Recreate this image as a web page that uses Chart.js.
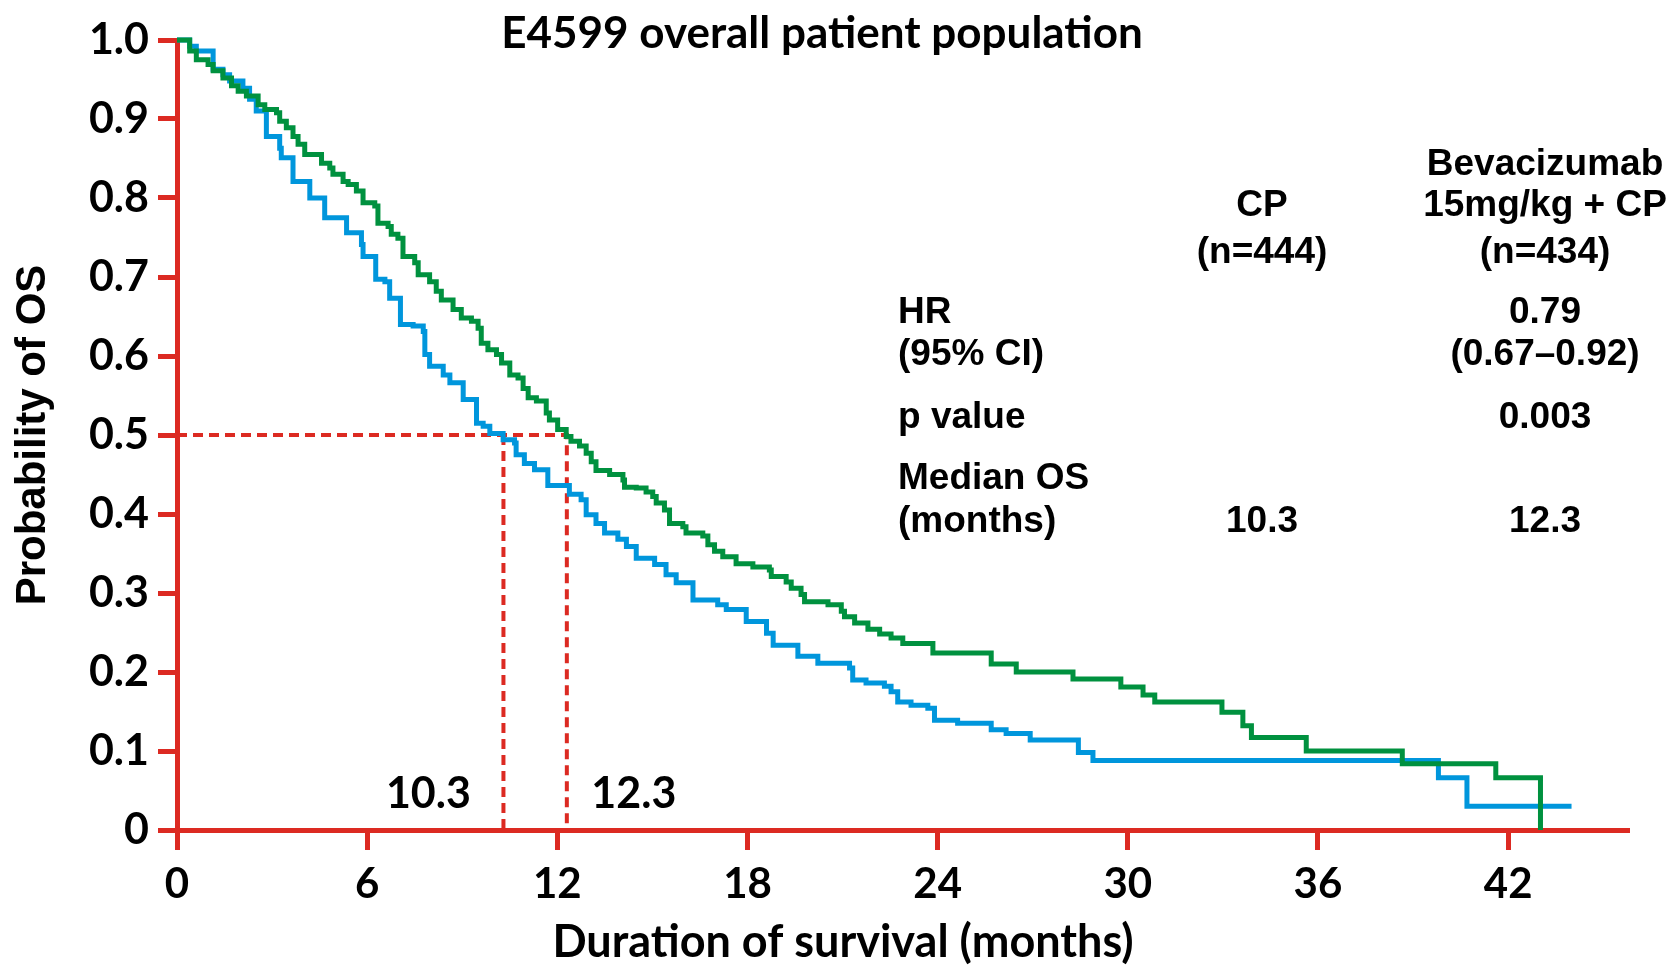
<!DOCTYPE html>
<html>
<head>
<meta charset="utf-8">
<title>E4599 overall patient population</title>
<script src="https://cdn.jsdelivr.net/npm/chart.js@4.4.1/dist/chart.umd.min.js"></script>
<style>
  html, body { margin: 0; padding: 0; background: #fff; }
  #wrap { width: 1673px; height: 965px; position: relative; }
</style>
</head>
<body>
<div id="wrap"><canvas id="kmChart"></canvas></div>
<script>
// CP arm (blue), Kaplan-Meier steps: month of drop, survival after drop
const cpMonths = [0, 0.40, 0.61, 1.14, 1.45, 1.66, 2.08, 2.29, 2.50, 2.82,
    3.24, 3.29, 3.66, 4.19, 4.66, 5.35, 5.82, 5.87, 6.27, 6.56,
    6.71, 7.05, 7.45, 7.77, 7.82, 7.97, 8.40, 8.61, 9.03, 9.45,
    9.66, 9.87, 10.29, 10.65, 10.70, 10.96, 11.28, 11.70, 12.38, 12.75,
    12.91, 13.22, 13.49, 13.91, 14.18, 14.49, 15.07, 15.43, 15.75, 16.28,
    17.06, 17.33, 17.96, 18.60, 18.81, 19.59, 20.22, 21.22, 21.32, 21.74,
    22.32, 22.53, 22.74, 23.16, 23.69, 23.90, 24.63, 25.69, 26.16, 26.92,
    28.44, 28.90, 39.80, 40.70, 44.0];
const cpSurvival = [1.0, 0.992, 0.986, 0.963, 0.956, 0.948, 0.939, 0.925, 0.910, 0.878,
    0.863, 0.851, 0.821, 0.800, 0.775, 0.756, 0.741, 0.726, 0.697, 0.694,
    0.673, 0.640, 0.638, 0.631, 0.602, 0.587, 0.576, 0.566, 0.545, 0.515,
    0.511, 0.502, 0.494, 0.490, 0.475, 0.464, 0.456, 0.436, 0.425, 0.418,
    0.399, 0.388, 0.376, 0.368, 0.359, 0.344, 0.336, 0.323, 0.313, 0.291,
    0.285, 0.279, 0.264, 0.249, 0.234, 0.220, 0.211, 0.205, 0.190, 0.186,
    0.182, 0.175, 0.162, 0.158, 0.154, 0.139, 0.135, 0.127, 0.122, 0.114,
    0.098, 0.088, 0.066, 0.030, 0.030];

// Bevacizumab 15mg/kg + CP arm (green)
const bevMonths = [0, 0.40, 0.61, 0.98, 1.14, 1.45, 1.72, 1.93, 2.19, 2.56,
    2.77, 3.14, 3.24, 3.45, 3.66, 3.82, 4.03, 4.56, 4.82, 4.92,
    5.24, 5.40, 5.66, 5.87, 6.24, 6.34, 6.66, 6.76, 6.97, 7.13,
    7.50, 7.61, 7.97, 8.18, 8.34, 8.71, 8.97, 9.29, 9.50, 9.60,
    9.81, 10.08, 10.24, 10.50, 10.76, 10.92, 11.08, 11.34, 11.65, 11.75,
    12.01, 12.28, 12.43, 12.70, 12.91, 13.07, 13.22, 13.65, 14.07, 14.12,
    14.49, 14.80, 15.01, 15.12, 15.38, 15.54, 15.96, 16.06, 16.59, 16.75,
    16.96, 17.22, 17.64, 18.17, 18.69, 18.75, 19.22, 19.38, 19.69, 19.80,
    20.54, 20.96, 21.06, 21.38, 21.80, 22.17, 22.53, 22.90, 23.85, 25.69,
    26.48, 28.27, 29.78, 30.48, 30.85, 32.97, 33.63, 33.90, 35.63, 38.66,
    41.61, 43.02];
const bevSurvival = [1.0, 0.986, 0.975, 0.969, 0.961, 0.952, 0.942, 0.935, 0.929, 0.918,
    0.912, 0.908, 0.897, 0.889, 0.878, 0.868, 0.855, 0.844, 0.838, 0.830,
    0.821, 0.817, 0.809, 0.794, 0.790, 0.768, 0.764, 0.754, 0.749, 0.726,
    0.718, 0.703, 0.694, 0.682, 0.671, 0.659, 0.648, 0.644, 0.635, 0.616,
    0.608, 0.602, 0.591, 0.576, 0.572, 0.559, 0.547, 0.543, 0.528, 0.519,
    0.507, 0.498, 0.492, 0.486, 0.477, 0.466, 0.455, 0.450, 0.443, 0.434,
    0.433, 0.428, 0.422, 0.414, 0.405, 0.388, 0.384, 0.376, 0.372, 0.361,
    0.353, 0.346, 0.337, 0.333, 0.329, 0.321, 0.314, 0.306, 0.298, 0.289,
    0.285, 0.277, 0.270, 0.262, 0.254, 0.248, 0.243, 0.236, 0.224, 0.210,
    0.200, 0.191, 0.181, 0.171, 0.162, 0.149, 0.132, 0.117, 0.100, 0.084,
    0.066, 0];

const medianMonths = [10.3, 12.3];
const medianLevel = 0.5;
const medianLabels = ['10.3', '12.3'];

const xTickValues = [0, 6, 12, 18, 24, 30, 36, 42];
const xMax = 45.75;
const yTickValues = [0, 0.1, 0.2, 0.3, 0.4, 0.5, 0.6, 0.7, 0.8, 0.9, 1.0];
const yTickLabels = ['0', '0.1', '0.2', '0.3', '0.4', '0.5', '0.6', '0.7', '0.8', '0.9', '1.0'];

const chartTitle = 'E4599 overall patient population';
const xTitle = 'Duration of survival (months)';
const yTitle = 'Probability of OS';

// summary table: [left label, CP column, Bevacizumab column]
const tableHead = [
    ['', '', 'Bevacizumab'],
    ['', 'CP', '15mg/kg + CP'],
    ['', '(n=444)', '(n=434)']
];
const tableRows = [
    ['HR', '', '0.79'],
    ['(95% CI)', '', '(0.67\u20130.92)'],
    ['p value', '', '0.003'],
    ['Median OS', '', ''],
    ['(months)', '10.3', '12.3']
];

const RED = '#dc2a22';
const BLUE = '#0096dc';
const GREEN = '#00913f';

function toPoints(xs, ys) {
    var pts = [];
    for (var i = 0; i < xs.length; i++) {
        pts.push({ x: xs[i], y: ys[i] });
    }
    return pts;
}

const textPlugin = {
    id: 'kmText',
    afterDraw(chart) {
        const ctx = chart.ctx;
        const xs = chart.scales.x;
        const ys = chart.scales.y;
        ctx.save();
        ctx.fillStyle = '#000';
        ctx.textBaseline = 'middle';
        ctx.textAlign = 'center';

        ctx.font = 'bold 44px Lato';
        ctx.fillText(chartTitle, 822, 34);

        ctx.font = 'bold 45px Lato';
        ctx.fillText(xTitle, 843, 942);

        // median labels next to the dashed drop lines
        ctx.font = 'bold 43px Lato';
        ctx.fillText(medianLabels[0], xs.getPixelForValue(medianMonths[0]) - 75, ys.getPixelForValue(0) - 36);
        ctx.fillText(medianLabels[1], xs.getPixelForValue(medianMonths[1]) + 67, ys.getPixelForValue(0) - 36);

        ctx.font = 'bold 37px "Liberation Sans"';
        const headY = [165, 206, 253];
        for (var i = 0; i < tableHead.length; i++) {
            ctx.fillText(tableHead[i][1], 1262, headY[i]);
            ctx.fillText(tableHead[i][2], 1545, headY[i]);
        }
        const rowY = [313, 355, 418, 479, 522];
        for (var j = 0; j < tableRows.length; j++) {
            ctx.textAlign = 'left';
            ctx.fillText(tableRows[j][0], 898, rowY[j]);
            ctx.textAlign = 'center';
            ctx.fillText(tableRows[j][1], 1262, rowY[j]);
            ctx.fillText(tableRows[j][2], 1545, rowY[j]);
        }
        ctx.restore();
    }
};

var controlKm = document.getElementById('kmChart');
var graficoKm = new Chart(controlKm, {
    type: 'line',
    data: {
        datasets: [{
            label: 'Bevacizumab 15mg/kg + CP',
            data: toPoints(bevMonths, bevSurvival),
            borderColor: GREEN,
            borderWidth: 5,
            stepped: 'before',
            pointRadius: 0,
            fill: false,
            clip: false,
            order: 1
        }, {
            label: 'CP',
            data: toPoints(cpMonths, cpSurvival),
            borderColor: BLUE,
            borderWidth: 5,
            stepped: 'before',
            pointRadius: 0,
            fill: false,
            clip: false,
            order: 2
        }, {
            label: 'median',
            data: [{ x: 0, y: medianLevel }, { x: medianMonths[1], y: medianLevel }, { x: medianMonths[1], y: 0 }],
            borderColor: RED,
            borderWidth: 4,
            borderDash: [10, 6],
            pointRadius: 0,
            fill: false,
            order: 3
        }, {
            label: 'median CP',
            data: [{ x: medianMonths[0], y: medianLevel }, { x: medianMonths[0], y: 0 }],
            borderColor: RED,
            borderWidth: 4,
            borderDash: [10, 6],
            pointRadius: 0,
            fill: false,
            order: 3
        }]
    },
    options: {
        responsive: true,
        maintainAspectRatio: false,
        animation: false,
        layout: { padding: { top: 40, right: 46, left: 0, bottom: 0 } },
        plugins: {
            legend: { display: false },
            tooltip: { enabled: false },
            title: { display: false }
        },
        scales: {
            x: {
                type: 'linear',
                min: 0,
                max: xMax,
                afterBuildTicks: (scale) => {
                    scale.ticks = xTickValues.map(v => ({ value: v }));
                },
                afterFit: (scale) => { scale.height = 135; },
                border: { display: true, color: RED, width: 5 },
                grid: {
                    drawOnChartArea: false,
                    color: RED,
                    lineWidth: 5,
                    tickLength: 20,
                    tickWidth: 5,
                    tickColor: RED
                },
                ticks: {
                    color: '#000',
                    padding: 9,
                    maxRotation: 0,
                    font: { family: 'Lato', weight: 'bold', size: 42 }
                }
            },
            y: {
                type: 'linear',
                min: 0,
                max: 1,
                afterBuildTicks: (scale) => {
                    scale.ticks = yTickValues.map(v => ({ value: v }));
                },
                afterFit: (scale) => { scale.width = 177; },
                border: { display: true, color: RED, width: 5 },
                grid: {
                    drawOnChartArea: false,
                    color: RED,
                    lineWidth: 5,
                    tickLength: 19,
                    tickWidth: 5,
                    tickColor: RED
                },
                ticks: {
                    color: '#000',
                    padding: 9,
                    font: { family: 'Lato', weight: 'bold', size: 43 },
                    callback: (value, index) => yTickLabels[index]
                },
                title: {
                    display: true,
                    text: yTitle,
                    color: '#000',
                    padding: { top: 12, bottom: 0 },
                    font: { family: 'Liberation Sans', weight: 'bold', size: 42, lineHeight: 1 }
                }
            }
        }
    },
    plugins: [textPlugin]
});
</script>
</body>
</html>
